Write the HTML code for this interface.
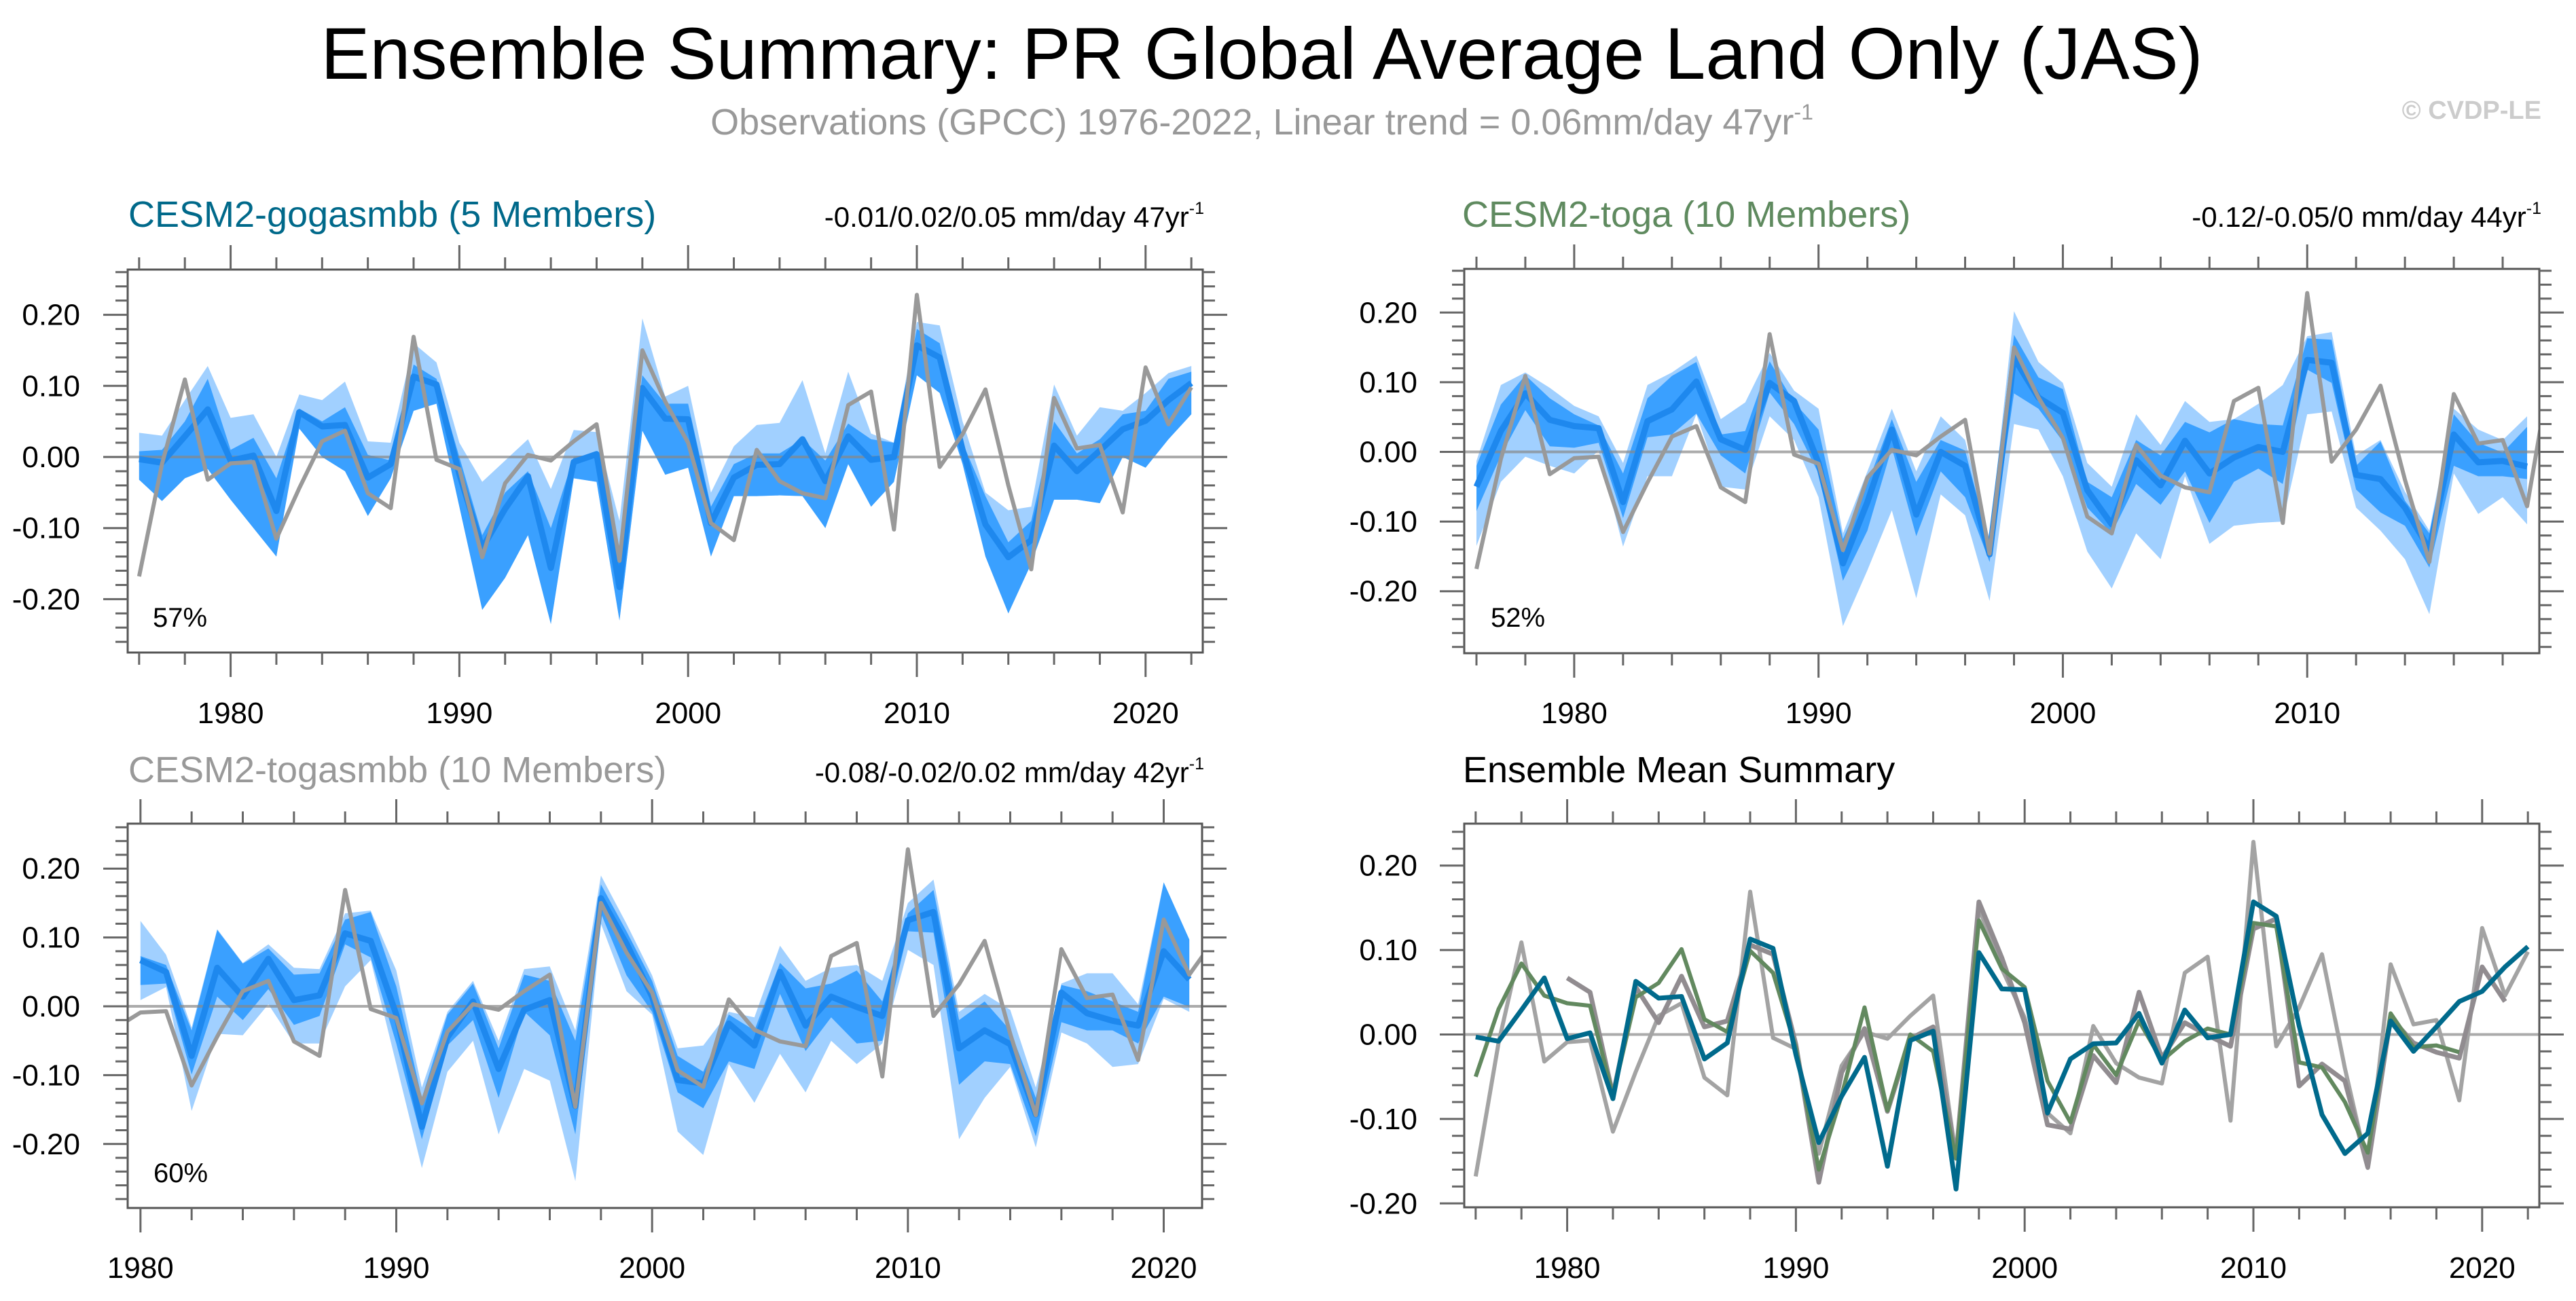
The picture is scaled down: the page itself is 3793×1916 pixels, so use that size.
<!DOCTYPE html>
<html><head><meta charset="utf-8"><style>
html,body{margin:0;padding:0;background:#fff;}
svg{display:block;font-family:"Liberation Sans",Arial,sans-serif;}
</style></head><body>
<svg id="fig" width="3793" height="1916" viewBox="0 0 3793 1916" xmlns="http://www.w3.org/2000/svg">
<text x="1858" y="116" font-size="108" text-anchor="middle" fill="#000">Ensemble Summary: PR Global Average Land Only (JAS)</text>
<text x="1858" y="198" font-size="54" text-anchor="middle" fill="#999">Observations (GPCC) 1976-2022, Linear trend = 0.06mm/day 47yr<tspan font-size="32" dy="-22">-1</tspan></text>
<text x="3742" y="175" font-size="38" text-anchor="end" fill="#ccc" font-weight="bold">© CVDP-LE</text>
</svg>
<script>
// ---------- data ----------
const obsStart = 1976;
const obsValues = [-0.168,-0.01,0.109,-0.032,-0.009,-0.007,-0.115,-0.044,0.022,0.037,
-0.051,-0.072,0.169,-0.004,-0.017,-0.141,-0.037,0.003,-0.005,0.022,
0.046,-0.146,0.150,0.078,0.02,-0.093,-0.117,0.010,-0.034,-0.051,
-0.058,0.073,0.092,-0.102,0.228,-0.014,0.032,0.095,-0.04,-0.158,
0.083,0.012,0.017,-0.078,0.126,0.046,0.098];

const gogaStart = 1976;
const gogaMean = [-0.003,-0.008,0.029,0.067,-0.005,0.002,-0.076,0.063,0.043,0.045,
-0.029,-0.010,0.113,0.102,-0.024,-0.128,-0.073,-0.027,-0.156,-0.007,
0.004,-0.183,0.097,0.054,0.053,-0.093,-0.029,-0.011,-0.010,0.025,
-0.034,0.029,-0.004,0.000,0.157,0.140,0.010,-0.095,-0.141,-0.117,
0.016,-0.020,0.009,0.039,0.051,0.080,0.104];
const gogaDarkUp = [0.008,0.01,0.05,0.11,0.01,0.027,-0.03,0.068,0.05,0.07,
0.003,-0.005,0.13,0.11,0.0,-0.11,-0.05,-0.02,-0.1,0.0,
0.005,-0.14,0.115,0.075,0.075,-0.07,-0.01,0.005,0.005,0.025,
-0.005,0.047,0.025,0.02,0.18,0.16,0.02,-0.055,-0.12,-0.09,
0.05,0.005,0.025,0.06,0.065,0.11,0.12];
const gogaDarkLo = [-0.032,-0.062,-0.03,-0.017,-0.06,-0.10,-0.14,0.04,0.0,-0.02,
-0.083,-0.03,0.065,0.075,-0.07,-0.215,-0.17,-0.11,-0.235,-0.03,
-0.035,-0.23,0.037,-0.025,-0.015,-0.14,-0.055,-0.055,-0.054,-0.055,
-0.1,-0.01,-0.07,-0.035,0.115,0.09,-0.01,-0.14,-0.22,-0.15,
-0.06,-0.06,-0.065,0.0,-0.015,0.025,0.06];
const gogaLightUp = [0.034,0.03,0.08,0.128,0.055,0.06,0.0,0.088,0.08,0.106,
0.022,0.02,0.16,0.133,0.02,-0.035,-0.005,0.025,-0.045,0.038,
0.035,-0.09,0.195,0.085,0.1,-0.05,0.015,0.045,0.048,0.108,
0.005,0.12,0.033,0.02,0.19,0.185,0.05,-0.05,-0.075,-0.07,
0.102,0.03,0.07,0.065,0.09,0.118,0.128];
const gogaLightLo = [-0.032,-0.062,-0.03,-0.017,-0.06,-0.10,-0.14,0.04,0.0,-0.02,
-0.083,-0.03,0.065,0.075,-0.07,-0.215,-0.17,-0.11,-0.235,-0.03,
-0.035,-0.23,0.037,-0.025,-0.015,-0.14,-0.055,-0.055,-0.054,-0.055,
-0.1,-0.01,-0.07,-0.035,0.115,0.09,-0.01,-0.14,-0.22,-0.15,
-0.06,-0.06,-0.065,0.0,-0.015,0.025,0.06];

const togaStart = 1976;
const togaMean = [-0.050,0.03,0.084,0.046,0.037,0.034,-0.072,0.044,0.061,0.101,
0.018,0.003,0.099,0.073,-0.016,-0.16,-0.072,0.032,-0.09,0.0,
-0.02,-0.147,0.135,0.078,0.056,-0.055,-0.104,-0.012,-0.048,0.016,
-0.031,-0.008,0.007,0.0,0.132,0.128,-0.033,-0.039,-0.08,-0.14,
0.025,-0.015,-0.013,-0.021];
const togaDarkUp = [-0.02,0.068,0.11,0.077,0.054,0.038,-0.031,0.077,0.109,0.129,
0.025,0.030,0.13,0.071,0.032,-0.125,-0.046,0.047,-0.043,0.017,
0.002,-0.132,0.168,0.107,0.09,-0.043,-0.065,0.017,-0.005,0.043,
0.028,0.047,0.04,0.038,0.163,0.161,-0.02,0.015,-0.07,-0.117,
0.054,0.013,-0.001,0.036];
const togaDarkLo = [-0.085,-0.005,0.06,0.008,0.006,0.013,-0.095,0.021,0.025,0.055,
-0.005,-0.031,0.085,0.04,-0.031,-0.185,-0.113,0.006,-0.121,-0.028,
-0.065,-0.158,0.084,0.062,0.015,-0.08,-0.117,-0.046,-0.076,-0.028,
-0.102,-0.043,-0.024,-0.046,0.118,0.099,-0.054,-0.087,-0.106,-0.166,
-0.02,-0.035,-0.035,-0.039];
const togaLightUp = [-0.013,0.096,0.114,0.092,0.066,0.051,-0.016,0.096,0.114,0.138,
0.047,0.071,0.142,0.088,0.062,-0.117,-0.028,0.062,-0.028,0.051,
0.017,-0.125,0.202,0.129,0.099,-0.016,-0.05,0.054,0.01,0.073,
0.043,0.047,0.069,0.096,0.166,0.172,-0.005,0.017,-0.057,-0.113,
0.062,0.032,0.017,0.051];
const togaLightLo = [-0.135,-0.043,-0.007,-0.02,-0.031,0.002,-0.136,-0.035,-0.035,0.054,
-0.05,-0.054,0.051,0.017,-0.065,-0.25,-0.17,-0.084,-0.21,-0.061,
-0.091,-0.214,0.04,0.032,-0.035,-0.143,-0.196,-0.117,-0.154,-0.035,
-0.132,-0.106,-0.102,-0.1,0.054,0.058,-0.08,-0.113,-0.154,-0.233,
-0.031,-0.089,-0.065,-0.104];

const tsmbbStart = 1980;
const tsmbbMean = [0.067,0.050,-0.072,0.056,0.014,0.069,0.009,0.016,0.106,0.095,
-0.012,-0.175,-0.045,0.007,-0.091,-0.005,0.009,-0.145,0.157,0.091,
0.014,-0.107,-0.112,-0.025,-0.057,0.050,-0.028,0.014,-0.001,-0.014,
0.125,0.137,-0.061,-0.035,-0.055,-0.157,0.02,-0.01,-0.021,-0.028,
0.080,0.039];
const tsmbbDarkUp = [0.073,0.06,-0.035,0.111,0.062,0.084,0.046,0.048,0.126,0.137,
0.029,-0.133,-0.012,0.033,-0.061,0.046,0.037,-0.05,0.177,0.109,
0.037,-0.072,-0.095,-0.012,-0.035,0.063,0.026,0.033,0.052,0.007,
0.135,0.169,-0.02,0.007,-0.035,-0.133,0.031,0.022,0.007,-0.008,
0.18,0.097];
const tsmbbDarkLo = [0.031,0.033,-0.099,0.014,-0.02,0.025,-0.027,-0.014,0.09,0.071,
-0.054,-0.193,-0.057,-0.02,-0.133,-0.008,-0.042,-0.186,0.135,0.045,
-0.008,-0.125,-0.148,-0.08,-0.091,0.018,-0.065,-0.016,-0.054,-0.05,
0.109,0.107,-0.114,-0.08,-0.084,-0.189,-0.023,-0.035,-0.035,-0.054,
0.014,-0.001];
const tsmbbLightUp = [0.124,0.075,-0.031,0.112,0.063,0.09,0.056,0.054,0.135,0.139,
0.052,-0.118,-0.008,0.037,-0.05,0.054,0.058,-0.035,0.19,0.12,
0.045,-0.061,-0.057,-0.008,-0.016,0.088,0.037,0.056,0.06,0.037,
0.15,0.184,-0.008,0.018,-0.005,-0.118,0.033,0.048,0.048,0.003,
0.18,0.097];
const tsmbbLightLo = [0.009,0.028,-0.152,-0.04,-0.042,0.003,-0.054,-0.054,0.029,0.067,
-0.084,-0.235,-0.095,-0.05,-0.186,-0.091,-0.108,-0.254,0.12,0.022,
-0.012,-0.182,-0.216,-0.084,-0.14,-0.069,-0.125,-0.05,-0.084,-0.054,
0.082,0.06,-0.193,-0.133,-0.088,-0.205,-0.038,-0.054,-0.088,-0.084,
0.011,-0.008];

const yTickLabels = ["-0.20","-0.10","0.00","0.10","0.20"];
const yTickValues = [-0.2,-0.1,0.0,0.1,0.2];
const xTickLabels = ["1980","1990","2000","2010","2020"];
const xTickValues = [1980,1990,2000,2010,2020];

// ---------- drawing ----------
const NS = "http://www.w3.org/2000/svg";
const svg = document.getElementById("fig");
function el(tag, parent){ const e=document.createElementNS(NS,tag); parent.appendChild(e); return e; }

const panels = [
 {id:"gogasmbb", L:188,R:1771,T:397,B:961,x0:1975.5,x1:2022.5,zero:673,ppu:1047,labX:118,xlabY:1065},
 {id:"toga", L:2156,R:3739,T:396,B:962,x0:1975.5,x1:2019.5,zero:665.5,ppu:1026,labX:2087,xlabY:1065},
 {id:"togasmbb", L:188,R:1770,T:1213,B:1779,x0:1979.5,x1:2021.5,zero:1482,ppu:1014,labX:118,xlabY:1882},
 {id:"mean-summary", L:2156,R:3739,T:1213,B:1778,x0:1975.5,x1:2022.5,zero:1523.5,ppu:1244,labX:2087,xlabY:1882}
];

function scales(p){
  return { x: yr => p.L + (yr - p.x0)/(p.x1 - p.x0)*(p.R - p.L),
           y: v => p.zero - v*p.ppu };
}

function drawAxes(p, g){
  const s = scales(p);
  const ticks = el("g", g);
  
  
  ticks.setAttribute("stroke", "#666");
  ticks.setAttribute("stroke-width", "3");
  for(let yr=Math.ceil(p.x0); yr<=p.x1; yr++){
    if(yr%2) continue;
    const maj = yr%10===0, len = maj?36:18, X = s.x(yr);
    for(const [y0,dir] of [[p.T,-1],[p.B,1]]){
      const l = el("line", ticks);
      
      
      l.setAttribute("x1",X); l.setAttribute("x2",X);
      l.setAttribute("y1",y0); l.setAttribute("y2",y0+dir*len);
    }
  }
  for(let k=-15;k<=15;k++){
    const v = k*0.02, Y = s.y(v);
    if(Y < p.T-1 || Y > p.B+1) continue;
    const maj = (k%5===0), len = maj?36:18;
    for(const [x0,dir] of [[p.L,-1],[p.R,1]]){
      const l = el("line", ticks);
      
      
      l.setAttribute("x1",x0); l.setAttribute("x2",x0+dir*len);
      l.setAttribute("y1",Y); l.setAttribute("y2",Y);
    }
  }
  yTickValues.forEach((v,i)=>{
    const t = el("text", g);
    
    
    t.setAttribute("x", p.labX); t.setAttribute("y", s.y(v)+15);
    t.setAttribute("font-size","44"); t.setAttribute("text-anchor","end");
    t.textContent = yTickLabels[i];
  });
  xTickValues.forEach((v,i)=>{
    if(v < p.x0 || v > p.x1) return;
    const t = el("text", g);
    
    
    t.setAttribute("x", s.x(v)); t.setAttribute("y", p.xlabY);
    t.setAttribute("font-size","44"); t.setAttribute("text-anchor","middle");
    t.textContent = xTickLabels[i];
  });
}

function band(p, g, start, up, lo, color, name){
  const s = scales(p);
  const pts = [];
  up.forEach((v,i)=>pts.push(s.x(start+i)+","+s.y(v)));
  for(let i=lo.length-1;i>=0;i--) pts.push(s.x(start+i)+","+s.y(lo[i]));
  const poly = el("polygon", g);
  
  
  poly.setAttribute("points", pts.join(" "));
  poly.setAttribute("fill", color);
}
function line(p, g, start, vals, color, w, name){
  const s = scales(p);
  const pl = el("polyline", g);
  
  
  pl.setAttribute("points", vals.map((v,i)=>s.x(start+i)+","+s.y(v)).join(" "));
  pl.setAttribute("fill","none"); pl.setAttribute("stroke",color);
  pl.setAttribute("stroke-width",w); pl.setAttribute("stroke-linejoin","round");
}

const ens = {
  gogasmbb:[gogaStart,gogaMean,gogaDarkUp,gogaDarkLo,gogaLightUp,gogaLightLo],
  toga:[togaStart,togaMean,togaDarkUp,togaDarkLo,togaLightUp,togaLightLo],
  togasmbb:[tsmbbStart,tsmbbMean,tsmbbDarkUp,tsmbbDarkLo,tsmbbLightUp,tsmbbLightLo]
};

panels.forEach((p,idx)=>{
  const g = el("g", svg);
  
  
  const cp = el("clipPath", g); cp.setAttribute("id","clip"+idx);
  const cr = el("rect", cp);
  cr.setAttribute("x",p.L); cr.setAttribute("y",p.T);
  cr.setAttribute("width",p.R-p.L); cr.setAttribute("height",p.B-p.T);
  const inner = el("g", g);
  
  
  inner.setAttribute("clip-path","url(#clip"+idx+")");
  const s = scales(p);
  if(ens[p.id]){
    const [st,mean,du,dl,lu,ll] = ens[p.id];
    band(p, inner, st, lu, ll, "#a1d0ff", "ensemble-range-band");
    band(p, inner, st, du, dl, "#3aa0ff", "ensemble-iqr-band");
  }
  const z = el("line", inner);
  
  
  z.setAttribute("x1",p.L); z.setAttribute("x2",p.R);
  z.setAttribute("y1",s.y(0)); z.setAttribute("y2",s.y(0));
  z.setAttribute("stroke","#888"); z.setAttribute("stroke-width","4"); z.setAttribute("stroke-opacity","0.7");
  if(ens[p.id]){
    const [st,mean] = ens[p.id];
    line(p, inner, st, mean, "#1e88ee", 9, "ensemble-mean-line");
    line(p, inner, obsStart, obsValues, "#999", 6, "observations-line");
  } else {
    line(p, inner, obsStart, obsValues, "#a3a3a3", 6, "observations-line");
    line(p, inner, tsmbbStart, tsmbbMean, "#918c90", 7, "togasmbb-mean-line");
    line(p, inner, togaStart, togaMean, "#62895f", 6, "toga-mean-line");
    line(p, inner, gogaStart, gogaMean, "#006a8c", 7, "gogasmbb-mean-line");
  }
  const box = el("rect", g);
  
  
  box.setAttribute("x",p.L); box.setAttribute("y",p.T);
  box.setAttribute("width",p.R-p.L); box.setAttribute("height",p.B-p.T);
  box.setAttribute("fill","none"); box.setAttribute("stroke","#555"); box.setAttribute("stroke-width","3");
  drawAxes(p, g);
});

// panel titles and annotations
const titles = [
 ["title-gogasmbb","CESM2-gogasmbb (5 Members)",189,334,"#00698a"],
 ["title-toga","CESM2-toga (10 Members)",2153,334,"#5f8a5f"],
 ["title-togasmbb","CESM2-togasmbb (10 Members)",189,1152,"#999"],
 ["title-mean-summary","Ensemble Mean Summary",2154,1152,"#000"]
];
titles.forEach(t=>{
  const e = el("text", svg);
  
  
  e.setAttribute("x",t[2]); e.setAttribute("y",t[3]);
  e.setAttribute("font-size","54"); e.setAttribute("fill",t[4]);
  e.textContent = t[1];
});
const trends = [
 ["trend-gogasmbb","-0.01/0.02/0.05 mm/day 47yr",1773,334],
 ["trend-toga","-0.12/-0.05/0 mm/day 44yr",3742,334],
 ["trend-togasmbb","-0.08/-0.02/0.02 mm/day 42yr",1773,1152]
];
trends.forEach(t=>{
  const e = el("text", svg);
  
  
  e.setAttribute("x",t[2]); e.setAttribute("y",t[3]);
  e.setAttribute("font-size","42"); e.setAttribute("text-anchor","end");
  e.textContent = t[1];
  const sup = el("tspan", e);
  sup.setAttribute("font-size","25"); sup.setAttribute("dy","-19");
  sup.textContent = "-1";
});
const pcts = [["pct-gogasmbb","57%",225,923],["pct-toga","52%",2195,923],["pct-togasmbb","60%",226,1741]];
pcts.forEach(t=>{
  const e = el("text", svg);
  
  
  e.setAttribute("x",t[2]); e.setAttribute("y",t[3]);
  e.setAttribute("font-size","40");
  e.textContent = t[1];
});
</script>
</body></html>
